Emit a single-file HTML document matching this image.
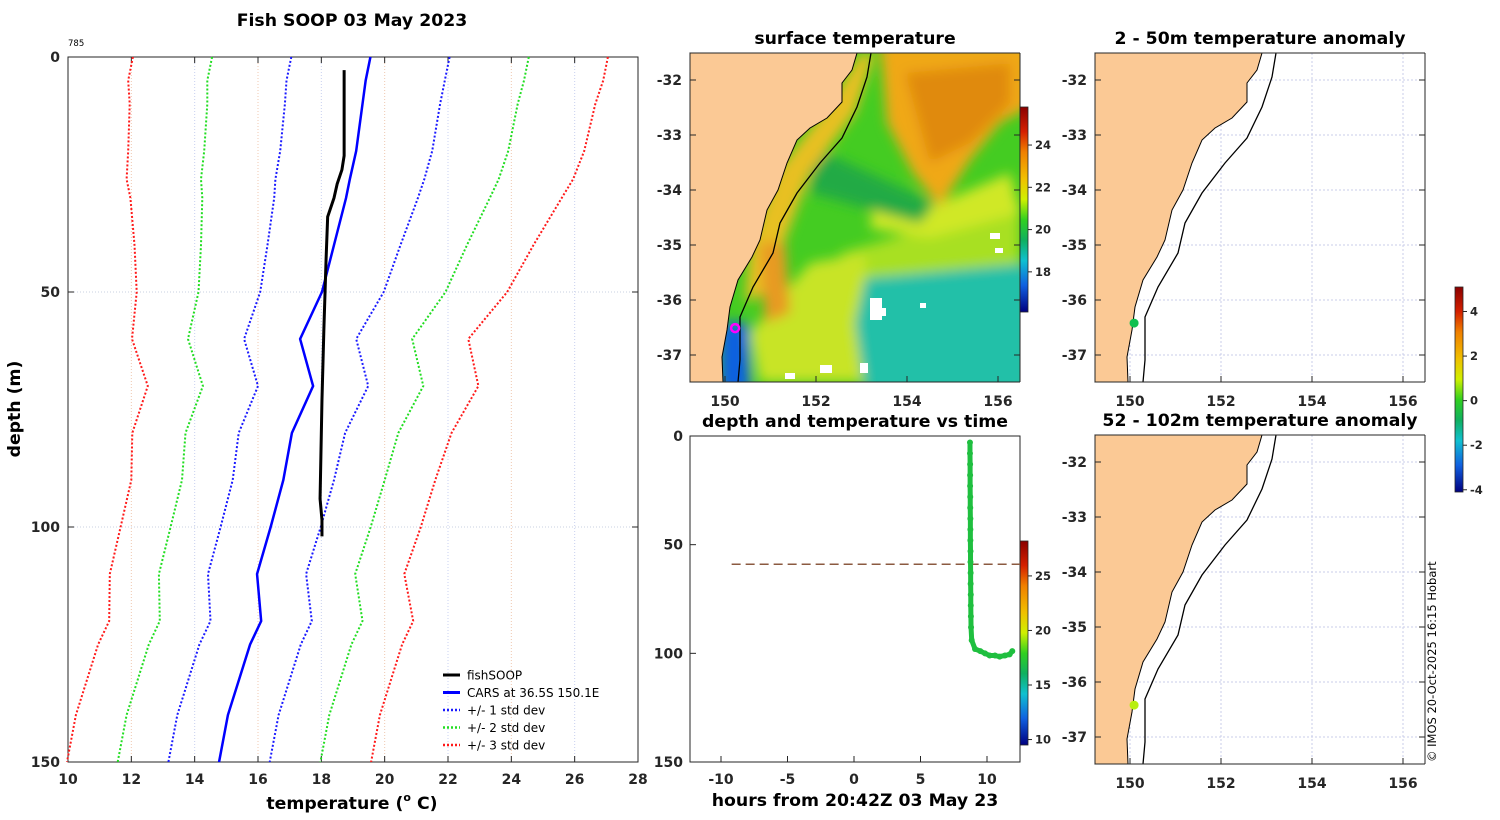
<!DOCTYPE html>
<html><head><meta charset="utf-8"><style>
body{margin:0;background:#fff}
svg{display:block;font-family:"DejaVu Sans","Liberation Sans",sans-serif}
.t{font-weight:bold;font-size:14px;fill:#262626}
.ti{font-weight:bold;font-size:17.3px;fill:#000}
.s{font-size:12px;fill:#000}
</style></head><body>
<svg id="c" width="1500" height="820" viewBox="0 0 1500 820" xmlns="http://www.w3.org/2000/svg">
<defs>
<linearGradient id="jet" x1="0" y1="0" x2="0" y2="1">
<stop offset="0" stop-color="#8b0000"/><stop offset="0.12" stop-color="#d42000"/><stop offset="0.22" stop-color="#f08000"/><stop offset="0.35" stop-color="#f0c000"/><stop offset="0.45" stop-color="#d0f000"/><stop offset="0.55" stop-color="#30d020"/><stop offset="0.65" stop-color="#10b060"/><stop offset="0.75" stop-color="#10c0d0"/><stop offset="0.87" stop-color="#1060e0"/><stop offset="1" stop-color="#000080"/>
</linearGradient>
<filter id="bl" x="-20%" y="-20%" width="140%" height="140%"><feGaussianBlur stdDeviation="6"/></filter>
<clipPath id="m1clip"><rect x="0" y="0" width="330" height="329"/></clipPath>
</defs>
<g id="main"></g>
<g id="maps"></g>
<g id="tp"></g>
<text x="1436" y="762" transform="rotate(-90 1436 762)" style="font-size:11.5px" fill="#000">© IMOS 20-Oct-2025 16:15 Hobart</text>
</svg>
<script>
// ===== profile data =====
const depths=[0,5,10,20,26,30,40,50,60,70,80,90,100,110,120,125,140,150];
const carsMean=[19.55,19.4,19.3,19.1,18.9,18.78,18.4,18.02,17.33,17.74,17.07,16.8,16.4,15.97,16.1,15.75,15.05,14.77];
const carsStd=[2.5,2.5,2.45,2.4,2.35,2.27,2.1,1.95,1.77,1.74,1.68,1.6,1.58,1.55,1.6,1.6,1.6,1.6];
const fishDepth=[2.8,10,21,24,27,30,34,43,58,73,94,98.5,102];
const fishTemp=[18.72,18.72,18.72,18.65,18.5,18.4,18.2,18.15,18.08,18.02,17.96,18.02,18.02];
const xTicks=[10,12,14,16,18,20,22,24,26,28];
const yTicks=[0,50,100,150];
// ===== depth-time data =====
const tHours=[8.72,8.72,8.73,8.73,8.73,8.74,8.74,8.75,8.75,8.75,8.76,8.76,8.77,8.77,8.78,8.78,8.79,8.8,8.85,9.1,9.5,9.85,10.2,10.6,10.95,11.35,11.7,11.9];
const tDepth=[3,8,13,18,23,28,33,38,43,48,53,58,63,68,73,78,83,88,94,98,99,100,101,101,101.5,101,100.5,99];
const thermoDepth=59;
const timeTicks=[-10,-5,0,5,10];
// ===== map dots =====
const dotLon=[150.09,150.11];
const dotLat=[-36.42,-36.45];
const lonTicks=[150,152,154,156];
const latTicks=[-32,-33,-34,-35,-36,-37];

const NS='http://www.w3.org/2000/svg';
function mk(p,tag,attrs,txt){const e=document.createElementNS(NS,tag);for(const k in attrs)e.setAttribute(k,attrs[k]);if(txt!==undefined)e.textContent=txt;p.appendChild(e);return e;}

// ---- main profile plot ----
const M=document.getElementById('main');
const xT=t=>68+(t-10)*570/18, yD=d=>57+d*705/150;
mk(M,'rect',{x:68,y:57,width:570,height:705,fill:'#fff'});
xTicks.forEach((t,i)=>{
  if(i>0&&i<xTicks.length-1){const g=mk(M,'line',{x1:xT(t),x2:xT(t),y1:57,y2:762,stroke:i%2?'#f0c8b0':'#c8d0f0','stroke-dasharray':'1,2','stroke-width':1});
  
  }
  mk(M,'line',{x1:xT(t),x2:xT(t),y1:762,y2:756,stroke:'#262626'});
  mk(M,'line',{x1:xT(t),x2:xT(t),y1:57,y2:63,stroke:'#262626'});
  const l=mk(M,'text',{x:xT(t),y:784,'text-anchor':'middle',class:'t'},String(t));
  
  
});
yTicks.forEach((d,i)=>{
  if(i>0&&i<yTicks.length-1){mk(M,'line',{x1:68,x2:638,y1:yD(d),y2:yD(d),stroke:'#c8d0e0','stroke-dasharray':'1,2'});}
  mk(M,'line',{x1:68,x2:74,y1:yD(d),y2:yD(d),stroke:'#262626'});
  mk(M,'line',{x1:632,x2:638,y1:yD(d),y2:yD(d),stroke:'#262626'});
  const l=mk(M,'text',{x:60,y:yD(d)+5,'text-anchor':'end',class:'t'},String(d));
  
  
});
mk(M,'rect',{x:68,y:57,width:570,height:705,fill:'none',stroke:'#262626','stroke-width':1});
const series=[[3,'#ff1a1a'],[-3,'#ff1a1a'],[2,'#22dd22'],[-2,'#22dd22'],[1,'#1a1aff'],[-1,'#1a1aff']];
series.forEach(([k,c])=>{
  const pts=depths.map((d,i)=>xT(carsMean[i]+k*carsStd[i]).toFixed(1)+','+yD(d).toFixed(1)).join(' ');
  const p=mk(M,'polyline',{points:pts,fill:'none',stroke:c,'stroke-width':2,'stroke-dasharray':'2,2'});
  
  
});
const cm=mk(M,'polyline',{points:depths.map((d,i)=>xT(carsMean[i])+','+yD(d)).join(' '),fill:'none',stroke:'#0000ff','stroke-width':2.5});


const fl=mk(M,'polyline',{points:fishDepth.map((d,i)=>xT(fishTemp[i])+','+yD(d)).join(' '),fill:'none',stroke:'#000','stroke-width':3});


mk(M,'text',{x:352,y:26,'text-anchor':'middle',class:'ti'},'Fish SOOP 03 May 2023');
mk(M,'text',{x:68,y:46,style:'font-size:8.5px'},'785');
const xa=mk(M,'text',{x:352,y:809,'text-anchor':'middle',class:'ti'});


mk(xa,'tspan',{},'temperature (');
mk(xa,'tspan',{dy:-8,style:'font-size:11px'},'o');
mk(xa,'tspan',{dy:8},' C)');
const yt=mk(M,'text',{x:20,y:409,'text-anchor':'middle',class:'ti',transform:'rotate(-90 20 409)'},'depth (m)');


const leg=[['fishSOOP','#000',''],['CARS at 36.5S 150.1E','#0000ff',''],['+/- 1 std dev','#1a1aff','2,2'],['+/- 2 std dev','#22dd22','2,2'],['+/- 3 std dev','#ff1a1a','2,2']];
leg.forEach((l,i)=>{const y=675+i*17.5;
  const g=mk(M,'g',{});
  
  
  const a={x1:443,x2:460,y1:y,y2:y,stroke:l[1],'stroke-width':l[2]?2.5:3};if(l[2])a['stroke-dasharray']=l[2];
  mk(g,'line',a);mk(g,'text',{x:467,y:y+4.5,class:'s'},l[0]);});

// ---- maps ----
const MP=document.getElementById('maps');
const coast=[[167,0],[162,17],[152,30],[152,49],[137,65],[120,75],[107,87],[97,110],[88,137],[77,157],[70,187],[62,204],[48,227],[40,254],[37,277],[32,304],[33,329]];
const shelf=[[181,0],[177,24],[167,54],[152,85],[130,110],[107,140],[90,170],[83,200],[63,234],[50,264],[50,307],[48,329]];
const lonPx=lon=>35+(lon-150)*45.5, latPx=lat=>27+(-32-lat)*55;
function drawMap(ox,oy,title,sst,dotColor,name,grid){
  const g=mk(MP,'g',{transform:`translate(${ox},${oy})`});
  
  
  mk(g,'rect',{x:0,y:0,width:330,height:329,fill:'#fff'});
  if(sst){const s=mk(g,'g',{'clip-path':'url(#m1clip)'});
    mk(s,'rect',{x:0,y:0,width:330,height:329,fill:'#44cc22'});
    const b=mk(s,'g',{filter:'url(#bl)'});
    mk(b,'polygon',{points:'150,200 330,150 330,260 170,260',fill:'#a8e020'});
    mk(b,'polygon',{points:'120,210 175,200 180,329 70,329 60,280',fill:'#c8e428'});
    mk(b,'polygon',{points:'185,130 250,150 320,120 330,160 240,185 180,175',fill:'#d0e828'});
    mk(b,'polygon',{points:'125,95 245,150 230,170 120,140',fill:'#22aa44'});
    mk(b,'polygon',{points:'190,-10 340,-10 340,54 310,70 280,107 250,154 223,120 197,70',fill:'#f0a818'});
    mk(b,'polygon',{points:'215,20 320,10 320,50 280,90 240,110',fill:'#e08a10'});
    mk(b,'polygon',{points:'170,0 185,0 165,60 120,120 90,200 75,240 55,250 60,190 85,120 140,50',fill:'#e8c020'});
    mk(b,'polygon',{points:'70,190 95,190 100,260 75,270',fill:'#e89a20'});
    mk(b,'polygon',{points:'175,225 340,210 340,340 175,340 165,270',fill:'#20c0a8'});
    mk(b,'polygon',{points:'30,270 58,270 60,340 30,340',fill:'#1060e0'});
    [[180,245,12,22],[190,255,6,8],[300,180,10,6],[95,320,10,6],[130,312,12,8],[230,250,6,5],[170,310,8,10],[305,195,8,5]].forEach(r=>mk(s,'rect',{x:r[0],y:r[1],width:r[2],height:r[3],fill:'#fff'}));
  }
  if(grid){
    lonTicks.forEach(l=>mk(g,'line',{x1:lonPx(l),x2:lonPx(l),y1:0,y2:329,stroke:'#c8cce8','stroke-dasharray':'2,2'}));
    latTicks.forEach(l=>mk(g,'line',{x1:0,x2:330,y1:latPx(l),y2:latPx(l),stroke:'#c8cce8','stroke-dasharray':'2,2'}));
  }
  mk(g,'polygon',{points:'0,0 '+coast.map(p=>p.join(',')).join(' ')+' 0,329',fill:'#fbc995',stroke:'#000','stroke-width':1});
  mk(g,'polyline',{points:shelf.map(p=>p.join(',')).join(' '),fill:'none',stroke:'#000','stroke-width':1.3});
  if(sst){mk(g,'circle',{cx:lonPx(dotLon[0])+6,cy:latPx(dotLat[0])+5,r:4,fill:'none',stroke:'#ff00ff','stroke-width':2.5});}
  else{const d=mk(g,'circle',{cx:lonPx(dotLon[0]),cy:latPx(dotLat[0]),r:4.5,fill:dotColor});
    
    }
  mk(g,'line',{x1:0,x2:330,y1:329,y2:329,stroke:'#262626'});
  mk(g,'line',{x1:330,x2:330,y1:0,y2:329,stroke:'#262626'});
  mk(g,'line',{x1:0,x2:330,y1:0,y2:0,stroke:'#262626'});
  mk(g,'line',{x1:0,x2:0,y1:0,y2:329,stroke:'#262626'});
  lonTicks.forEach(l=>{mk(g,'line',{x1:lonPx(l),x2:lonPx(l),y1:329,y2:323,stroke:'#262626'});
    const t=mk(g,'text',{x:lonPx(l),y:353,'text-anchor':'middle',class:'t'},String(l));
    
    });
  latTicks.forEach(l=>{mk(g,'line',{x1:0,x2:6,y1:latPx(l),y2:latPx(l),stroke:'#262626'});mk(g,'line',{x1:324,x2:330,y1:latPx(l),y2:latPx(l),stroke:'#262626'});
    const t=mk(g,'text',{x:-8,y:latPx(l)+5,'text-anchor':'end',class:'t'},String(l));
    
    });
  mk(g,'text',{x:165,y:-9,'text-anchor':'middle',class:'ti'},title);
}
drawMap(690,53,'surface temperature',true,null,'surface-temperature-map',false);
drawMap(1095,53,'2 - 50m temperature anomaly',false,'#10c050','anomaly-map-2-50m',true);
drawMap(1095,435,'52 - 102m temperature anomaly',false,'#b8ee10','anomaly-map-52-102m',true);

function colorbar(x,y0,y1,vmin,vmax,ticks,name){
  const g=mk(MP,'g',{});
  
  
  mk(g,'rect',{x:x,y:y0,width:8,height:y1-y0,fill:'url(#jet)',stroke:'#262626','stroke-width':0.8});
  ticks.forEach(v=>{const y=y1-(v-vmin)/(vmax-vmin)*(y1-y0);
    mk(g,'line',{x1:x+8,x2:x+12,y1:y,y2:y,stroke:'#262626'});
    mk(g,'text',{x:x+15,y:y+4,style:'font-size:11.5px;font-weight:bold',fill:'#262626'},String(v));});
}
colorbar(1020,107,312,16.1,25.8,[24,22,20,18],'sst-colorbar');
colorbar(1455,287,492,-4.1,5.1,[4,2,0,-2,-4],'anomaly-colorbar');
colorbar(1020,541,745,9.5,28.2,[25,20,15,10],'time-colorbar');

// ---- depth vs time ----
const TP=document.getElementById('tp');
const xH=h=>854+h*13.3, yTd=d=>436+d*326/150;
mk(TP,'rect',{x:690,y:436,width:330,height:326,fill:'none',stroke:'#262626'});
const dl=mk(TP,'line',{x1:xH(-9.2),x2:1020,y1:yTd(thermoDepth),y2:yTd(thermoDepth),stroke:'#8b5a40','stroke-width':1.5,'stroke-dasharray':'9,5'});


tHours.forEach((h,i)=>{const c=mk(TP,'circle',{cx:xH(h),cy:yTd(tDepth[i]),r:3,fill:'#1fbf3f'});
  
  });
for(let i=1;i<tHours.length;i++){mk(TP,'line',{x1:xH(tHours[i-1]),y1:yTd(tDepth[i-1]),x2:xH(tHours[i]),y2:yTd(tDepth[i]),stroke:'#1fbf3f','stroke-width':5,'stroke-linecap':'round'});}
timeTicks.forEach(h=>{mk(TP,'line',{x1:xH(h),x2:xH(h),y1:762,y2:756,stroke:'#262626'});
  const t=mk(TP,'text',{x:xH(h),y:784,'text-anchor':'middle',class:'t'},String(h));
  
  });
yTicks.forEach(d=>{mk(TP,'line',{x1:690,x2:696,y1:yTd(d),y2:yTd(d),stroke:'#262626'});
  const t=mk(TP,'text',{x:683,y:yTd(d)+5,'text-anchor':'end',class:'t'},String(d));
  
  });
mk(TP,'text',{x:855,y:427,'text-anchor':'middle',class:'ti'},'depth and temperature vs time');
mk(TP,'text',{x:855,y:806,'text-anchor':'middle',class:'ti'},'hours from 20:42Z 03 May 23');
</script>
</body></html>
